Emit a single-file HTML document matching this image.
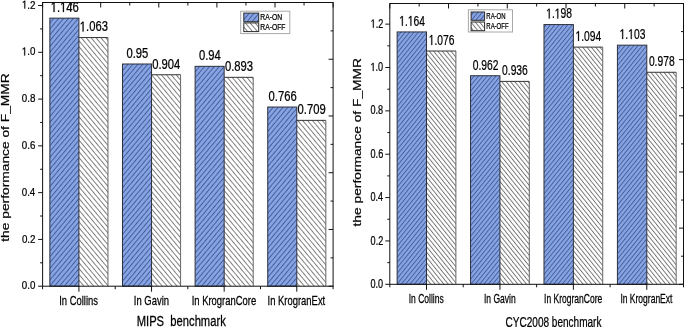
<!DOCTYPE html>
<html><head><meta charset="utf-8"><style>
html,body{margin:0;padding:0;background:#fff;}
svg{display:block;will-change:transform;}
text{font-family:"Liberation Sans",sans-serif;stroke:#000;stroke-width:0.25px;}
</style></head><body>
<svg width="685" height="328" viewBox="0 0 685 328">
<defs><pattern id="onL" patternUnits="userSpaceOnUse" width="3.754" height="10" patternTransform="rotate(40.00)"><rect width="3.754" height="10" fill="#85a4e6"/><line x1="0.5" y1="0" x2="0.5" y2="10" stroke="#304070" stroke-width="0.72"/></pattern><pattern id="offL" patternUnits="userSpaceOnUse" width="3.754" height="10" patternTransform="rotate(-40.00)"><rect width="3.754" height="10" fill="#fff"/><line x1="0.5" y1="0" x2="0.5" y2="10" stroke="#666" stroke-width="0.85"/></pattern><pattern id="onR" patternUnits="userSpaceOnUse" width="3.381" height="10" patternTransform="rotate(39.00)"><rect width="3.381" height="10" fill="#85a4e6"/><line x1="0.5" y1="0" x2="0.5" y2="10" stroke="#304070" stroke-width="0.72"/></pattern><pattern id="offR" patternUnits="userSpaceOnUse" width="3.381" height="10" patternTransform="rotate(-39.00)"><rect width="3.381" height="10" fill="#fff"/><line x1="0.5" y1="0" x2="0.5" y2="10" stroke="#666" stroke-width="0.85"/></pattern></defs>
<rect width="685" height="328" fill="#fff"/>
<rect x="78.91" y="37.56" width="29.05" height="248.64" fill="url(#offL)" stroke="none" stroke-width="1"/>
<line x1="78.91" y1="37.56" x2="107.96" y2="37.56" stroke="#333" stroke-width="1"/>
<line x1="107.96" y1="37.56" x2="107.96" y2="286.20" stroke="#666" stroke-width="1"/>
<path transform="matrix(0.005491,0,0,-0.006934,79.76,31.46)" d="M515 0V1237L197 1010V1180L530 1409H696V0Z" fill="#000" stroke="#000" stroke-width="0.25" vector-effect="non-scaling-stroke"/>
<text transform="matrix(0.7920,0,0,1,79.76,31.46)" font-size="14.20" fill="#000" xml:space="preserve"> .063</text>
<rect x="49.86" y="18.15" width="29.05" height="268.05" fill="url(#onL)" stroke="#2b2f3a" stroke-width="1"/>
<path transform="matrix(0.005491,0,0,-0.006934,50.71,12.05)" d="M515 0V1237L197 1010V1180L530 1409H696V0Z" fill="#000" stroke="#000" stroke-width="0.25" vector-effect="non-scaling-stroke"/>
<path transform="matrix(0.005491,0,0,-0.006934,60.09,12.05)" d="M515 0V1237L197 1010V1180L530 1409H696V0Z" fill="#000" stroke="#000" stroke-width="0.25" vector-effect="non-scaling-stroke"/>
<text transform="matrix(0.7920,0,0,1,50.71,12.05)" font-size="14.20" fill="#000" xml:space="preserve"> . 46</text>
<text transform="matrix(0.7500,0,0,1,59.21,304.70)" font-size="12.60" fill="#000" xml:space="preserve">In Collins</text>
<rect x="151.54" y="74.75" width="29.05" height="211.45" fill="url(#offL)" stroke="none" stroke-width="1"/>
<line x1="151.54" y1="74.75" x2="180.59" y2="74.75" stroke="#333" stroke-width="1"/>
<line x1="180.59" y1="74.75" x2="180.59" y2="286.20" stroke="#666" stroke-width="1"/>
<text transform="matrix(0.7920,0,0,1,152.25,68.65)" font-size="14.20" fill="#000" xml:space="preserve">0.904</text>
<rect x="122.49" y="64.00" width="29.05" height="222.20" fill="url(#onL)" stroke="#2b2f3a" stroke-width="1"/>
<text transform="matrix(0.7920,0,0,1,126.38,57.90)" font-size="14.20" fill="#000" xml:space="preserve">0.95</text>
<text transform="matrix(0.7500,0,0,1,133.82,304.70)" font-size="12.60" fill="#000" xml:space="preserve">In Gavin</text>
<rect x="224.16" y="77.33" width="29.05" height="208.87" fill="url(#offL)" stroke="none" stroke-width="1"/>
<line x1="224.16" y1="77.33" x2="253.21" y2="77.33" stroke="#333" stroke-width="1"/>
<line x1="253.21" y1="77.33" x2="253.21" y2="286.20" stroke="#666" stroke-width="1"/>
<text transform="matrix(0.7920,0,0,1,224.96,71.23)" font-size="14.20" fill="#000" xml:space="preserve">0.893</text>
<rect x="195.11" y="66.33" width="29.05" height="219.87" fill="url(#onL)" stroke="#2b2f3a" stroke-width="1"/>
<text transform="matrix(0.7920,0,0,1,198.94,60.23)" font-size="14.20" fill="#000" xml:space="preserve">0.94</text>
<text transform="matrix(0.7500,0,0,1,191.65,304.70)" font-size="12.60" fill="#000" xml:space="preserve">In KrogranCore</text>
<rect x="296.79" y="120.36" width="29.05" height="165.84" fill="url(#offL)" stroke="none" stroke-width="1"/>
<line x1="296.79" y1="120.36" x2="325.84" y2="120.36" stroke="#333" stroke-width="1"/>
<line x1="325.84" y1="120.36" x2="325.84" y2="286.20" stroke="#666" stroke-width="1"/>
<text transform="matrix(0.7920,0,0,1,297.58,114.26)" font-size="14.20" fill="#000" xml:space="preserve">0.709</text>
<rect x="267.74" y="107.03" width="29.05" height="179.17" fill="url(#onL)" stroke="#2b2f3a" stroke-width="1"/>
<text transform="matrix(0.7920,0,0,1,268.53,100.93)" font-size="14.20" fill="#000" xml:space="preserve">0.766</text>
<text transform="matrix(0.7500,0,0,1,267.52,304.70)" font-size="12.60" fill="#000" xml:space="preserve">In KrogranExt</text>
<rect x="42.60" y="2.50" width="290.50" height="283.70" fill="none" stroke="#111" stroke-width="1"/>
<line x1="38.10" y1="286.20" x2="42.60" y2="286.20" stroke="#111" stroke-width="1"/>
<text transform="matrix(0.8500,0,0,1,21.80,289.30)" font-size="11.50" fill="#000" xml:space="preserve">0.0</text>
<line x1="40.10" y1="262.81" x2="42.60" y2="262.81" stroke="#111" stroke-width="1"/>
<line x1="38.10" y1="239.42" x2="42.60" y2="239.42" stroke="#111" stroke-width="1"/>
<text transform="matrix(0.8500,0,0,1,21.90,242.52)" font-size="11.50" fill="#000" xml:space="preserve">0.2</text>
<line x1="40.10" y1="216.03" x2="42.60" y2="216.03" stroke="#111" stroke-width="1"/>
<line x1="38.10" y1="192.64" x2="42.60" y2="192.64" stroke="#111" stroke-width="1"/>
<text transform="matrix(0.8500,0,0,1,21.71,195.74)" font-size="11.50" fill="#000" xml:space="preserve">0.4</text>
<line x1="40.10" y1="169.25" x2="42.60" y2="169.25" stroke="#111" stroke-width="1"/>
<line x1="38.10" y1="145.86" x2="42.60" y2="145.86" stroke="#111" stroke-width="1"/>
<text transform="matrix(0.8500,0,0,1,21.85,148.96)" font-size="11.50" fill="#000" xml:space="preserve">0.6</text>
<line x1="40.10" y1="122.47" x2="42.60" y2="122.47" stroke="#111" stroke-width="1"/>
<line x1="38.10" y1="99.08" x2="42.60" y2="99.08" stroke="#111" stroke-width="1"/>
<text transform="matrix(0.8500,0,0,1,21.80,102.18)" font-size="11.50" fill="#000" xml:space="preserve">0.8</text>
<line x1="40.10" y1="75.69" x2="42.60" y2="75.69" stroke="#111" stroke-width="1"/>
<line x1="38.10" y1="52.30" x2="42.60" y2="52.30" stroke="#111" stroke-width="1"/>
<path transform="matrix(0.004773,0,0,-0.005615,21.80,55.40)" d="M515 0V1237L197 1010V1180L530 1409H696V0Z" fill="#000" stroke="#000" stroke-width="0.25" vector-effect="non-scaling-stroke"/>
<text transform="matrix(0.8500,0,0,1,21.80,55.40)" font-size="11.50" fill="#000" xml:space="preserve"> .0</text>
<line x1="40.10" y1="28.91" x2="42.60" y2="28.91" stroke="#111" stroke-width="1"/>
<line x1="38.10" y1="5.52" x2="42.60" y2="5.52" stroke="#111" stroke-width="1"/>
<path transform="matrix(0.004773,0,0,-0.005615,21.90,8.62)" d="M515 0V1237L197 1010V1180L530 1409H696V0Z" fill="#000" stroke="#000" stroke-width="0.25" vector-effect="non-scaling-stroke"/>
<text transform="matrix(0.8500,0,0,1,21.90,8.62)" font-size="11.50" fill="#000" xml:space="preserve"> .2</text>
<line x1="78.91" y1="286.20" x2="78.91" y2="291.70" stroke="#111" stroke-width="1"/>
<line x1="151.54" y1="286.20" x2="151.54" y2="291.70" stroke="#111" stroke-width="1"/>
<line x1="224.16" y1="286.20" x2="224.16" y2="291.70" stroke="#111" stroke-width="1"/>
<line x1="296.79" y1="286.20" x2="296.79" y2="291.70" stroke="#111" stroke-width="1"/>
<line x1="42.60" y1="286.20" x2="42.60" y2="289.20" stroke="#111" stroke-width="1"/>
<line x1="115.22" y1="286.20" x2="115.22" y2="289.20" stroke="#111" stroke-width="1"/>
<line x1="187.85" y1="286.20" x2="187.85" y2="289.20" stroke="#111" stroke-width="1"/>
<line x1="260.48" y1="286.20" x2="260.48" y2="289.20" stroke="#111" stroke-width="1"/>
<line x1="333.10" y1="286.20" x2="333.10" y2="289.20" stroke="#111" stroke-width="1"/>
<line x1="42.60" y1="2.50" x2="42.60" y2="7.50" stroke="#111" stroke-width="1"/>
<line x1="71.65" y1="2.50" x2="71.65" y2="5.50" stroke="#111" stroke-width="1"/>
<line x1="100.70" y1="2.50" x2="100.70" y2="7.50" stroke="#111" stroke-width="1"/>
<line x1="129.75" y1="2.50" x2="129.75" y2="5.50" stroke="#111" stroke-width="1"/>
<line x1="158.80" y1="2.50" x2="158.80" y2="7.50" stroke="#111" stroke-width="1"/>
<line x1="187.85" y1="2.50" x2="187.85" y2="5.50" stroke="#111" stroke-width="1"/>
<line x1="216.90" y1="2.50" x2="216.90" y2="7.50" stroke="#111" stroke-width="1"/>
<line x1="245.95" y1="2.50" x2="245.95" y2="5.50" stroke="#111" stroke-width="1"/>
<line x1="275.00" y1="2.50" x2="275.00" y2="7.50" stroke="#111" stroke-width="1"/>
<line x1="304.05" y1="2.50" x2="304.05" y2="5.50" stroke="#111" stroke-width="1"/>
<line x1="333.10" y1="2.50" x2="333.10" y2="7.50" stroke="#111" stroke-width="1"/>
<line x1="328.60" y1="2.50" x2="333.10" y2="2.50" stroke="#111" stroke-width="1"/>
<line x1="330.60" y1="30.87" x2="333.10" y2="30.87" stroke="#111" stroke-width="1"/>
<line x1="328.60" y1="59.24" x2="333.10" y2="59.24" stroke="#111" stroke-width="1"/>
<line x1="330.60" y1="87.61" x2="333.10" y2="87.61" stroke="#111" stroke-width="1"/>
<line x1="328.60" y1="115.98" x2="333.10" y2="115.98" stroke="#111" stroke-width="1"/>
<line x1="330.60" y1="144.35" x2="333.10" y2="144.35" stroke="#111" stroke-width="1"/>
<line x1="328.60" y1="172.72" x2="333.10" y2="172.72" stroke="#111" stroke-width="1"/>
<line x1="330.60" y1="201.09" x2="333.10" y2="201.09" stroke="#111" stroke-width="1"/>
<line x1="328.60" y1="229.46" x2="333.10" y2="229.46" stroke="#111" stroke-width="1"/>
<line x1="330.60" y1="257.83" x2="333.10" y2="257.83" stroke="#111" stroke-width="1"/>
<line x1="328.60" y1="286.20" x2="333.10" y2="286.20" stroke="#111" stroke-width="1"/>
<text transform="matrix(0.8130,0,0,1,136.70,325.90)" font-size="13.80" fill="#000" xml:space="preserve">MIPS  benchmark</text>
<text transform="matrix(0,-1,0.7700,0,9.10,241.71)" font-size="13.80">the performance of F_MMR</text>
<rect x="240.70" y="11.20" width="49.10" height="22.40" fill="#fff" stroke="#a8a8a8" stroke-width="1"/>
<rect x="243.80" y="13.10" width="14.90" height="8.60" fill="url(#onL)" stroke="#2a2a2a" stroke-width="1"/>
<rect x="243.80" y="22.90" width="14.90" height="8.70" fill="url(#offL)" stroke="#2a2a2a" stroke-width="1"/>
<text transform="matrix(0.7850,0,0,1,260.36,20.00)" font-size="8.60" fill="#000" xml:space="preserve">RA-ON</text>
<text transform="matrix(0.7850,0,0,1,260.36,29.80)" font-size="8.60" fill="#000" xml:space="preserve">RA-OFF</text>
<rect x="426.51" y="51.02" width="29.37" height="233.28" fill="url(#offR)" stroke="none" stroke-width="1"/>
<line x1="426.51" y1="51.02" x2="455.88" y2="51.02" stroke="#333" stroke-width="1"/>
<line x1="455.88" y1="51.02" x2="455.88" y2="284.30" stroke="#666" stroke-width="1"/>
<path transform="matrix(0.005027,0,0,-0.006982,428.72,44.92)" d="M515 0V1237L197 1010V1180L530 1409H696V0Z" fill="#000" stroke="#000" stroke-width="0.25" vector-effect="non-scaling-stroke"/>
<text transform="matrix(0.7200,0,0,1,428.72,44.92)" font-size="14.30" fill="#000" xml:space="preserve"> .076</text>
<rect x="397.14" y="31.94" width="29.37" height="252.36" fill="url(#onR)" stroke="#2b2f3a" stroke-width="1"/>
<path transform="matrix(0.005027,0,0,-0.006982,399.28,25.84)" d="M515 0V1237L197 1010V1180L530 1409H696V0Z" fill="#000" stroke="#000" stroke-width="0.25" vector-effect="non-scaling-stroke"/>
<path transform="matrix(0.005027,0,0,-0.006982,407.86,25.84)" d="M515 0V1237L197 1010V1180L530 1409H696V0Z" fill="#000" stroke="#000" stroke-width="0.25" vector-effect="non-scaling-stroke"/>
<text transform="matrix(0.7200,0,0,1,399.28,25.84)" font-size="14.30" fill="#000" xml:space="preserve"> . 64</text>
<text transform="matrix(0.7100,0,0,1,408.75,303.00)" font-size="12.00" fill="#000" xml:space="preserve">In Collins</text>
<rect x="499.94" y="81.38" width="29.37" height="202.92" fill="url(#offR)" stroke="none" stroke-width="1"/>
<line x1="499.94" y1="81.38" x2="529.31" y2="81.38" stroke="#333" stroke-width="1"/>
<line x1="529.31" y1="81.38" x2="529.31" y2="284.30" stroke="#666" stroke-width="1"/>
<text transform="matrix(0.7200,0,0,1,502.08,75.28)" font-size="14.30" fill="#000" xml:space="preserve">0.936</text>
<rect x="470.57" y="75.74" width="29.37" height="208.56" fill="url(#onR)" stroke="#2b2f3a" stroke-width="1"/>
<text transform="matrix(0.7200,0,0,1,472.73,69.64)" font-size="14.30" fill="#000" xml:space="preserve">0.962</text>
<text transform="matrix(0.7100,0,0,1,483.96,303.00)" font-size="12.00" fill="#000" xml:space="preserve">In Gavin</text>
<rect x="573.36" y="47.12" width="29.37" height="237.18" fill="url(#offR)" stroke="none" stroke-width="1"/>
<line x1="573.36" y1="47.12" x2="602.73" y2="47.12" stroke="#333" stroke-width="1"/>
<line x1="602.73" y1="47.12" x2="602.73" y2="284.30" stroke="#666" stroke-width="1"/>
<path transform="matrix(0.005027,0,0,-0.006982,575.50,41.02)" d="M515 0V1237L197 1010V1180L530 1409H696V0Z" fill="#000" stroke="#000" stroke-width="0.25" vector-effect="non-scaling-stroke"/>
<text transform="matrix(0.7200,0,0,1,575.50,41.02)" font-size="14.30" fill="#000" xml:space="preserve"> .094</text>
<rect x="543.99" y="24.57" width="29.37" height="259.73" fill="url(#onR)" stroke="#2b2f3a" stroke-width="1"/>
<path transform="matrix(0.005027,0,0,-0.006982,546.18,18.47)" d="M515 0V1237L197 1010V1180L530 1409H696V0Z" fill="#000" stroke="#000" stroke-width="0.25" vector-effect="non-scaling-stroke"/>
<path transform="matrix(0.005027,0,0,-0.006982,554.76,18.47)" d="M515 0V1237L197 1010V1180L530 1409H696V0Z" fill="#000" stroke="#000" stroke-width="0.25" vector-effect="non-scaling-stroke"/>
<text transform="matrix(0.7200,0,0,1,546.18,18.47)" font-size="14.30" fill="#000" xml:space="preserve"> . 98</text>
<text transform="matrix(0.7100,0,0,1,544.05,303.00)" font-size="12.00" fill="#000" xml:space="preserve">In KrogranCore</text>
<rect x="646.79" y="72.27" width="29.37" height="212.03" fill="url(#offR)" stroke="none" stroke-width="1"/>
<line x1="646.79" y1="72.27" x2="676.16" y2="72.27" stroke="#333" stroke-width="1"/>
<line x1="676.16" y1="72.27" x2="676.16" y2="284.30" stroke="#666" stroke-width="1"/>
<text transform="matrix(0.7200,0,0,1,648.90,66.17)" font-size="14.30" fill="#000" xml:space="preserve">0.978</text>
<rect x="617.42" y="45.17" width="29.37" height="239.13" fill="url(#onR)" stroke="#2b2f3a" stroke-width="1"/>
<path transform="matrix(0.005027,0,0,-0.006982,619.63,39.07)" d="M515 0V1237L197 1010V1180L530 1409H696V0Z" fill="#000" stroke="#000" stroke-width="0.25" vector-effect="non-scaling-stroke"/>
<path transform="matrix(0.005027,0,0,-0.006982,628.21,39.07)" d="M515 0V1237L197 1010V1180L530 1409H696V0Z" fill="#000" stroke="#000" stroke-width="0.25" vector-effect="non-scaling-stroke"/>
<text transform="matrix(0.7200,0,0,1,619.63,39.07)" font-size="14.30" fill="#000" xml:space="preserve"> . 03</text>
<text transform="matrix(0.7100,0,0,1,620.40,303.00)" font-size="12.00" fill="#000" xml:space="preserve">In KrogranExt</text>
<rect x="389.80" y="3.50" width="293.70" height="280.80" fill="none" stroke="#111" stroke-width="1"/>
<line x1="385.30" y1="284.30" x2="389.80" y2="284.30" stroke="#111" stroke-width="1"/>
<text transform="matrix(0.7650,0,0,1,370.51,287.90)" font-size="11.90" fill="#000" xml:space="preserve">0.0</text>
<line x1="387.30" y1="262.62" x2="389.80" y2="262.62" stroke="#111" stroke-width="1"/>
<line x1="385.30" y1="240.94" x2="389.80" y2="240.94" stroke="#111" stroke-width="1"/>
<text transform="matrix(0.7650,0,0,1,370.60,244.54)" font-size="11.90" fill="#000" xml:space="preserve">0.2</text>
<line x1="387.30" y1="219.26" x2="389.80" y2="219.26" stroke="#111" stroke-width="1"/>
<line x1="385.30" y1="197.58" x2="389.80" y2="197.58" stroke="#111" stroke-width="1"/>
<text transform="matrix(0.7650,0,0,1,370.42,201.18)" font-size="11.90" fill="#000" xml:space="preserve">0.4</text>
<line x1="387.30" y1="175.90" x2="389.80" y2="175.90" stroke="#111" stroke-width="1"/>
<line x1="385.30" y1="154.22" x2="389.80" y2="154.22" stroke="#111" stroke-width="1"/>
<text transform="matrix(0.7650,0,0,1,370.56,157.82)" font-size="11.90" fill="#000" xml:space="preserve">0.6</text>
<line x1="387.30" y1="132.54" x2="389.80" y2="132.54" stroke="#111" stroke-width="1"/>
<line x1="385.30" y1="110.86" x2="389.80" y2="110.86" stroke="#111" stroke-width="1"/>
<text transform="matrix(0.7650,0,0,1,370.51,114.46)" font-size="11.90" fill="#000" xml:space="preserve">0.8</text>
<line x1="387.30" y1="89.18" x2="389.80" y2="89.18" stroke="#111" stroke-width="1"/>
<line x1="385.30" y1="67.50" x2="389.80" y2="67.50" stroke="#111" stroke-width="1"/>
<path transform="matrix(0.004445,0,0,-0.005811,370.51,71.10)" d="M515 0V1237L197 1010V1180L530 1409H696V0Z" fill="#000" stroke="#000" stroke-width="0.25" vector-effect="non-scaling-stroke"/>
<text transform="matrix(0.7650,0,0,1,370.51,71.10)" font-size="11.90" fill="#000" xml:space="preserve"> .0</text>
<line x1="387.30" y1="45.82" x2="389.80" y2="45.82" stroke="#111" stroke-width="1"/>
<line x1="385.30" y1="24.14" x2="389.80" y2="24.14" stroke="#111" stroke-width="1"/>
<path transform="matrix(0.004445,0,0,-0.005811,370.60,27.74)" d="M515 0V1237L197 1010V1180L530 1409H696V0Z" fill="#000" stroke="#000" stroke-width="0.25" vector-effect="non-scaling-stroke"/>
<text transform="matrix(0.7650,0,0,1,370.60,27.74)" font-size="11.90" fill="#000" xml:space="preserve"> .2</text>
<line x1="426.51" y1="284.30" x2="426.51" y2="289.80" stroke="#111" stroke-width="1"/>
<line x1="499.94" y1="284.30" x2="499.94" y2="289.80" stroke="#111" stroke-width="1"/>
<line x1="573.36" y1="284.30" x2="573.36" y2="289.80" stroke="#111" stroke-width="1"/>
<line x1="646.79" y1="284.30" x2="646.79" y2="289.80" stroke="#111" stroke-width="1"/>
<line x1="389.80" y1="284.30" x2="389.80" y2="287.30" stroke="#111" stroke-width="1"/>
<line x1="463.23" y1="284.30" x2="463.23" y2="287.30" stroke="#111" stroke-width="1"/>
<line x1="536.65" y1="284.30" x2="536.65" y2="287.30" stroke="#111" stroke-width="1"/>
<line x1="610.08" y1="284.30" x2="610.08" y2="287.30" stroke="#111" stroke-width="1"/>
<line x1="683.50" y1="284.30" x2="683.50" y2="287.30" stroke="#111" stroke-width="1"/>
<line x1="389.80" y1="3.50" x2="389.80" y2="8.50" stroke="#111" stroke-width="1"/>
<line x1="419.17" y1="3.50" x2="419.17" y2="6.50" stroke="#111" stroke-width="1"/>
<line x1="448.54" y1="3.50" x2="448.54" y2="8.50" stroke="#111" stroke-width="1"/>
<line x1="477.91" y1="3.50" x2="477.91" y2="6.50" stroke="#111" stroke-width="1"/>
<line x1="507.28" y1="3.50" x2="507.28" y2="8.50" stroke="#111" stroke-width="1"/>
<line x1="536.65" y1="3.50" x2="536.65" y2="6.50" stroke="#111" stroke-width="1"/>
<line x1="566.02" y1="3.50" x2="566.02" y2="8.50" stroke="#111" stroke-width="1"/>
<line x1="595.39" y1="3.50" x2="595.39" y2="6.50" stroke="#111" stroke-width="1"/>
<line x1="624.76" y1="3.50" x2="624.76" y2="8.50" stroke="#111" stroke-width="1"/>
<line x1="654.13" y1="3.50" x2="654.13" y2="6.50" stroke="#111" stroke-width="1"/>
<line x1="683.50" y1="3.50" x2="683.50" y2="8.50" stroke="#111" stroke-width="1"/>
<line x1="679.00" y1="3.50" x2="683.50" y2="3.50" stroke="#111" stroke-width="1"/>
<line x1="681.00" y1="31.58" x2="683.50" y2="31.58" stroke="#111" stroke-width="1"/>
<line x1="679.00" y1="59.66" x2="683.50" y2="59.66" stroke="#111" stroke-width="1"/>
<line x1="681.00" y1="87.74" x2="683.50" y2="87.74" stroke="#111" stroke-width="1"/>
<line x1="679.00" y1="115.82" x2="683.50" y2="115.82" stroke="#111" stroke-width="1"/>
<line x1="681.00" y1="143.90" x2="683.50" y2="143.90" stroke="#111" stroke-width="1"/>
<line x1="679.00" y1="171.98" x2="683.50" y2="171.98" stroke="#111" stroke-width="1"/>
<line x1="681.00" y1="200.06" x2="683.50" y2="200.06" stroke="#111" stroke-width="1"/>
<line x1="679.00" y1="228.14" x2="683.50" y2="228.14" stroke="#111" stroke-width="1"/>
<line x1="681.00" y1="256.22" x2="683.50" y2="256.22" stroke="#111" stroke-width="1"/>
<line x1="679.00" y1="284.30" x2="683.50" y2="284.30" stroke="#111" stroke-width="1"/>
<text transform="matrix(0.7220,0,0,1,505.60,326.50)" font-size="13.90" fill="#000" xml:space="preserve">CYC2008 benchmark</text>
<text transform="matrix(0,-1,0.7700,0,361.40,226.51)" font-size="13.80">the performance of F_MMR</text>
<rect x="468.40" y="9.80" width="44.10" height="22.20" fill="#fff" stroke="#a8a8a8" stroke-width="1"/>
<rect x="471.10" y="12.00" width="13.50" height="8.30" fill="url(#onR)" stroke="#2a2a2a" stroke-width="1"/>
<rect x="471.10" y="22.00" width="13.50" height="8.70" fill="url(#offR)" stroke="#2a2a2a" stroke-width="1"/>
<text transform="matrix(0.7200,0,0,1,486.32,19.00)" font-size="8.30" fill="#000" xml:space="preserve">RA-ON</text>
<text transform="matrix(0.7200,0,0,1,486.32,28.60)" font-size="8.30" fill="#000" xml:space="preserve">RA-OFF</text>
</svg>
</body></html>
